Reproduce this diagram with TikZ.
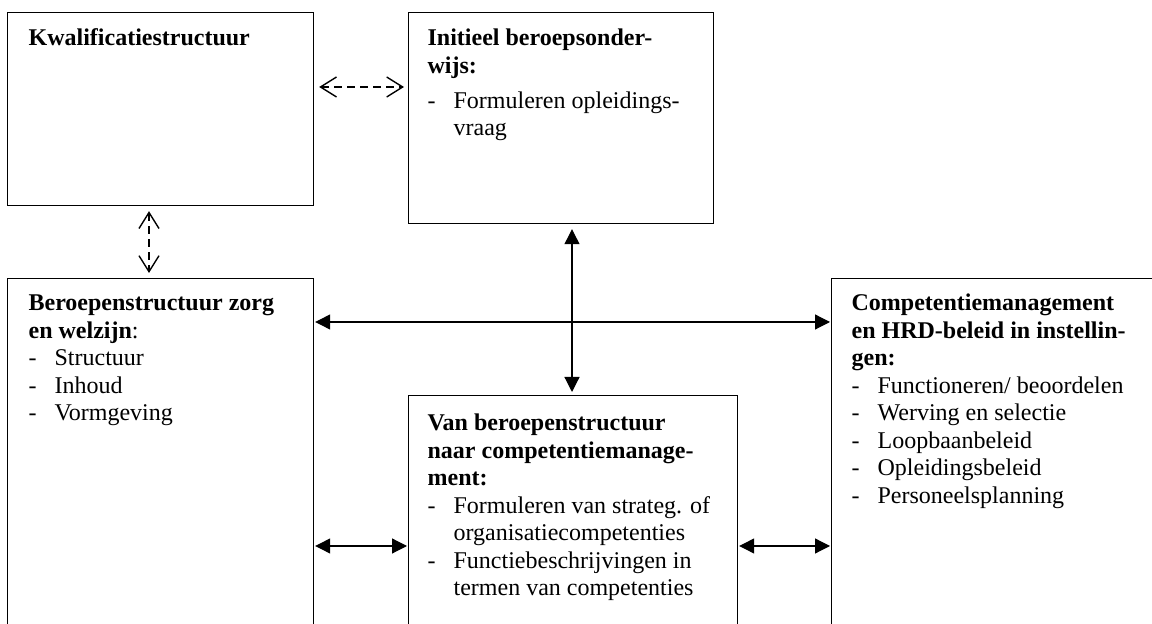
\documentclass[tikz,border=0pt]{standalone}
\usepackage{fontspec}
\setmainfont{Liberation Serif}
\usetikzlibrary{arrows.meta}
\newcommand{\itm}[1]{\makebox[13pt][l]{-}#1}
\newcommand{\gap}{\hspace*{13pt}}
\newcommand{\fst}{\rule{0pt}{10pt}}

\begin{document}
\begin{tikzpicture}[x=0.5pt,y=-0.5pt,line width=0.6pt]
  \tikzstyle{box}=[draw,rectangle,anchor=north west,inner sep=0pt]
  \tikzstyle{txt}=[anchor=north west,inner sep=0pt,align=left,font=\fontsize{12}{13.75}\selectfont]
  \tikzstyle{dasharrow}=[{Straight Barb[length=8pt,width=10pt]}-{Straight Barb[length=8pt,width=10pt]},dash pattern=on 4pt off 2.5pt,line width=0.7pt]
  \tikzstyle{solidarrow}=[{Triangle[length=7.5pt,width=7.5pt]}-{Triangle[length=7.5pt,width=7.5pt]},line width=0.6pt]

  \useasboundingbox (0,0) rectangle (1152,624);
  \clip (0,0) rectangle (1152,624);

  \node[box,minimum width=153pt,minimum height=96.5pt] (kwal) at (7,12) {};
  \node[box,minimum width=152.5pt,minimum height=105.5pt] (ini) at (408,12) {};
  \node[box,minimum width=153pt,minimum height=200pt] (beroep) at (7,278) {};
  \node[box,minimum width=164.5pt,minimum height=150pt] (van) at (408,395) {};
  \node[box,minimum width=170pt,minimum height=200pt] (comp) at (831,278) {};

  \node[txt] (kwal-t) at ([shift={(21,13)}]kwal.north west)
    {\fst\textbf{Kwalificatiestructuur}};
  \node[txt] (ini-t) at ([shift={(19,13)}]ini.north west)
    {\fst\textbf{Initieel beroepsonder-}\\ \textbf{wijs:}\\[3.75pt]
     \makebox[13pt][l]{\large -}Formuleren opleidings-\\ \gap vraag};
  \node[txt] (beroep-t) at ([shift={(21,12)}]beroep.north west)
    {\fst\textbf{Beroepenstructuur zorg}\\ \textbf{en welzijn}:\\
     \itm{Structuur}\\ \itm{Inhoud}\\ \itm{Vormgeving}};
  \node[txt] (van-t) at ([shift={(19,15)}]van.north west)
    {\fst\textbf{Van beroepenstructuur}\\ \textbf{naar competentiemanage-}\\ \textbf{ment:}\\
     \itm{Formuleren van strateg. of}\\ \gap organisatiecompetenties\\
     \itm{Functiebeschrijvingen in}\\ \gap termen van competenties};
  \node[txt] (comp-t) at ([shift={(20,12)}]comp.north west)
    {\fst\textbf{Competentiemanagement}\\ \textbf{en HRD-beleid in instellin-}\\ \textbf{gen:}\\
     \itm{Functioneren/ beoordelen}\\ \itm{Werving en selectie}\\ \itm{Loopbaanbeleid}\\
     \itm{Opleidingsbeleid}\\ \itm{Personeelsplanning}};

  \draw[dasharrow,shorten <=2.5pt,shorten >=2pt] (kwal.east |- 0,87) -- (ini.west |- 0,87);
  \draw[dasharrow,shorten <=2.5pt,shorten >=2.5pt] (kwal.south -| 149,0) -- (beroep.north -| 149,0);
  \draw[solidarrow,shorten <=2.5pt,shorten >=1.5pt] (ini.south -| 572,0) -- (van.north -| 572,0);
  \draw[solidarrow,shorten <=0.5pt,shorten >=0.5pt] (beroep.east |- 0,322) -- (comp.west |- 0,322);
  \draw[solidarrow,shorten <=0.5pt,shorten >=0.5pt] (beroep.east |- 0,546) -- (van.west |- 0,546);
  \draw[solidarrow,shorten <=0.5pt,shorten >=0.5pt] (van.east |- 0,546) -- (comp.west |- 0,546);
\end{tikzpicture}
\end{document}
